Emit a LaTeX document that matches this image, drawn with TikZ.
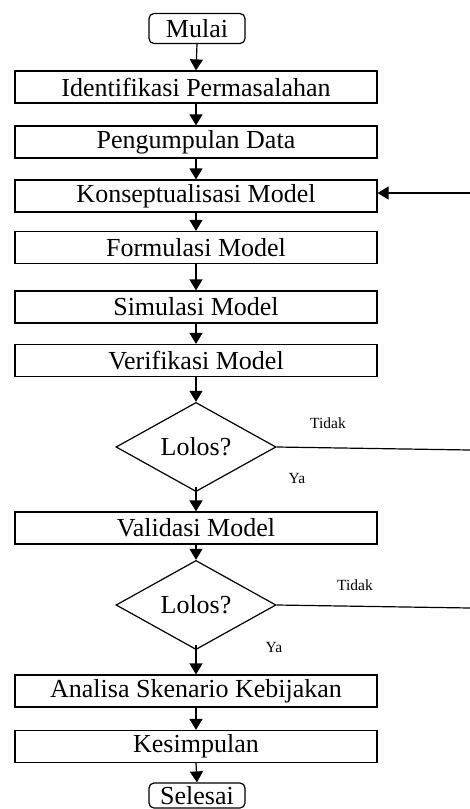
\documentclass[tikz,border=0pt]{standalone}
\usepackage{fontspec}
\setmainfont{Liberation Serif}
\usetikzlibrary{shapes.geometric,arrows.meta}
\begin{document}
\begin{tikzpicture}[x=1pt,y=-1pt,
  line width=1.2pt,
  big/.style={font=\fontsize{26}{30}\selectfont},
  small/.style={font=\fontsize{15.5}{18}\selectfont},
  stepbox/.style={draw,rectangle,big,inner sep=0pt,minimum width=362pt,minimum height=32pt},
  terminal/.style={draw,rectangle,rounded corners=5pt,big,inner sep=0pt,minimum width=96pt,minimum height=30pt},
  decision/.style={draw,diamond,big,inner sep=0pt,minimum width=160pt,minimum height=70pt},
  flow/.style={-{Triangle[width=13pt,length=11pt]}}]
\useasboundingbox (0,0) rectangle (470,809);
\clip (0,0) rectangle (470,809);

% main column
\node[terminal] (start) at (197,28.5) {Mulai};
\node[stepbox] (s1) at (196,87) {Identifikasi Permasalahan};
\node[stepbox] (s2) at (196,142) {Pengumpulan Data};
\node[stepbox] (s3) at (196,196) {Konseptualisasi Model};
\node[stepbox] (s4) at (196,247.5) {Formulasi Model};
\node[stepbox] (s5) at (196,307) {Simulasi Model};
\node[stepbox] (s6) at (196,360.5) {Verifikasi Model};
\node[decision] (d1) at (196,447) {Lolos?};
\node[stepbox] (s7) at (196,528) {Validasi Model};
\node[decision] (d2) at (196,605) {Lolos?};
\node[stepbox] (s8) at (196,691) {Analisa Skenario Kebijakan};
\node[stepbox] (s9) at (196,746.5) {Kesimpulan};
\node[terminal,minimum height=25pt] (stop) at (197,795.5) {Selesai};

% branch labels
\node[small] (t1) at (328,423) {Tidak};
\node[small] (y1) at (297,478) {Ya};
\node[small] (t2) at (355,585) {Tidak};
\node[small] (y2) at (274,647) {Ya};

% free ends of the connectors
\coordinate (yes1) at (196,487);
\coordinate (yes2) at (196,645);
\coordinate (back) at (470,193);
\coordinate (no1) at (470,450);
\coordinate (no2) at (470,608);

% connectors
\draw[flow] (start.south) -- (s1.north);
\draw[flow] (s1.south) -- (s2.north);
\draw[flow] (s2.south) -- (s3.north);
\draw[flow] (s3.south) -- (s4.north);
\draw[flow] (s4.south) -- (s5.north);
\draw[flow] (s5.south) -- (s6.north);
\draw[flow] (s6.south) -- (d1.north);
\draw[flow] (yes1) -- (s7.north);
\draw[flow] (s7.south) -- (d2.north);
\draw[flow] (yes2) -- (s8.north);
\draw[flow] (s8.south) -- (s9.north);
\draw[flow] (s9.south) -- (stop.north);
\draw (d1.east) -- (no1);
\draw (d2.east) -- (no2);
\draw[flow] (back) -- (s3.east |- back);
\end{tikzpicture}
\end{document}
